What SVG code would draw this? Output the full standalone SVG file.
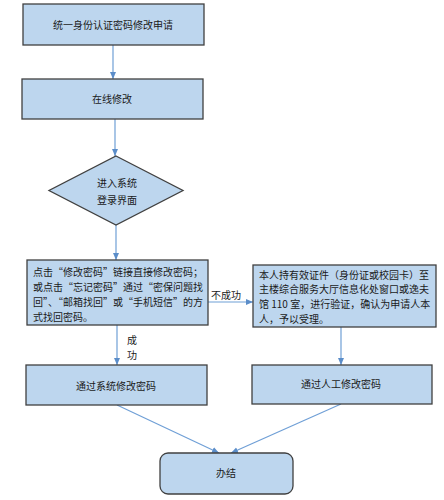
<svg xmlns="http://www.w3.org/2000/svg" width="444" height="500" viewBox="0 0 444 500">
<defs>
<marker id="ah" markerWidth="8" markerHeight="8" refX="7" refY="4" orient="auto" markerUnits="userSpaceOnUse">
<path d="M0,1 L7,4 L0,7 Z" fill="#5b8dc9"/>
</marker>
<style>
.box{fill:#bdd6ee;stroke:#404040;stroke-width:1.3}
.t{font-family:"Noto Sans CJK SC","Liberation Sans",sans-serif;font-size:10px;fill:#1a1a1a}
.c{text-anchor:middle}
.ln{stroke:#6f9fd6;stroke-width:1.2;fill:none;marker-end:url(#ah)}
</style>
</defs>
<rect width="444" height="500" fill="#ffffff"/>
<g id="connectors">
<line class="ln" x1="113" y1="45" x2="113" y2="79"/>
<line class="ln" x1="115" y1="119" x2="115" y2="156"/>
<line class="ln" x1="116" y1="225" x2="116" y2="260"/>
<line class="ln" x1="117" y1="325" x2="117" y2="365"/>
<line class="ln" x1="208" y1="302" x2="253" y2="302"/>
<line class="ln" x1="341" y1="327" x2="341" y2="365"/>
<line class="ln" x1="117" y1="405" x2="219" y2="453"/>
<line class="ln" x1="341" y1="404" x2="231" y2="453"/>
<text class="t" x="211" y="299">不成功</text>
<text class="t c" x="132" y="344">成</text>
<text class="t c" x="132" y="359">功</text>
</g>
<g id="n1">
<rect class="box" x="23" y="4" width="181" height="41"/>
<text class="t c" x="113" y="29">统一身份认证密码修改申请</text>
</g>
<g id="n2">
<rect class="box" x="22" y="79" width="181" height="40"/>
<text class="t c" x="112" y="103">在线修改</text>
</g>
<g id="n3">
<polygon class="box" points="116,156 183,190.5 116,225 49,190.5"/>
<text class="t c" x="117" y="187">进入系统</text>
<text class="t c" x="117" y="204">登录界面</text>
</g>
<g id="n4">
<rect class="box" x="27" y="260" width="181" height="65"/>
<text class="t" x="33" y="276">点击“修改密码”链接直接修改密码；</text>
<text class="t" x="33" y="291">或点击“忘记密码”通过“密保问题找</text>
<text class="t" x="33" y="306">回”、“邮箱找回”或“手机短信”的方</text>
<text class="t" x="33" y="321">式找回密码。</text>
</g>
<g id="n5">
<rect class="box" x="253" y="265" width="183" height="62"/>
<text class="t" x="259" y="279">本人持有效证件（身份证或校园卡）至</text>
<text class="t" x="259" y="293">主楼综合服务大厅信息化处窗口或逸夫</text>
<text class="t" x="259" y="308">馆 110 室，进行验证，确认为申请人本</text>
<text class="t" x="259" y="323">人，予以受理。</text>
</g>
<g id="n6">
<rect class="box" x="26" y="365" width="181" height="40"/>
<text class="t c" x="116" y="390">通过系统修改密码</text>
</g>
<g id="n7">
<rect class="box" x="252" y="365" width="180" height="39"/>
<text class="t c" x="341" y="388">通过人工修改密码</text>
</g>
<g id="n8">
<rect class="box" x="160" y="453" width="133" height="41" rx="8"/>
<text class="t c" x="226" y="477">办结</text>
</g>
</svg>
